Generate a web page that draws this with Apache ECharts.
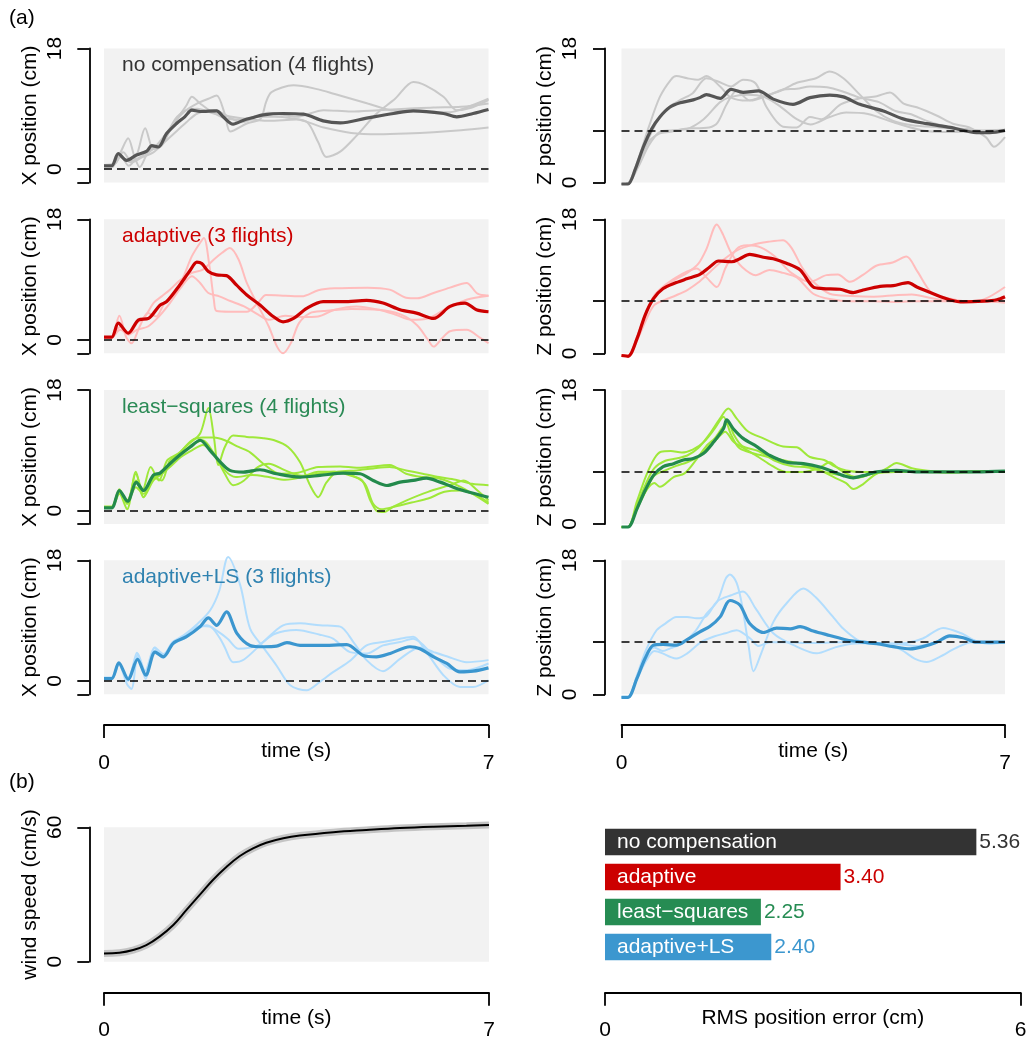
<!DOCTYPE html>
<html><head><meta charset="utf-8">
<script src="https://cdn.jsdelivr.net/npm/echarts@6/dist/echarts.min.js"></script>
<style>html,body{margin:0;padding:0;background:#fff}#c{width:1028px;height:1043px}</style>
</head><body><div id="c"></div>
<script>
// ---------- DATA ([time s, value]) ----------
// no compensation, X
const ncX_mean = [[0,0.5],[0.14,0.5],[0.26,2.3],[0.41,1.3],[0.59,2.1],[0.78,2.7],[0.87,3.5],[0.99,3.3],[1.14,5.3],[1.32,6.8],[1.47,7.8],[1.6,8.8],[1.75,8.6],[2.05,8.7],[2.17,7.8],[2.35,6.7],[2.54,7.3],[2.72,7.7],[2.9,8.1],[3.26,8.3],[3.63,8.2],[3.99,7.2],[4.3,6.9],[4.78,7.6],[5.27,8.3],[5.63,8.7],[6.18,8.3],[6.42,7.8],[6.72,8.3],[7,8.9]];
const ncX_f1 = [[0,0.4],[0.15,0.5],[0.3,2.5],[0.44,4.6],[0.55,2.0],[0.65,0.3],[0.8,2.5],[0.95,3.5],[1.1,5.0],[1.3,7.2],[1.5,9.5],[1.6,10.8],[1.75,9.8],[1.95,8.6],[2.2,7.6],[2.5,7.4],[2.8,7.8],[3.1,7.8],[3.4,7.6],[3.7,7.0],[3.9,4.0],[4.05,1.8],[4.3,2.6],[4.6,5.0],[4.95,8.2],[5.3,10.5],[5.63,13.0],[5.85,12.5],[6.18,10.8],[6.42,8.8],[6.7,9.2],[7,10.3]];
const ncX_f2 = [[0,0.2],[0.15,0.3],[0.3,2.0],[0.45,0.5],[0.6,2.2],[0.75,6.1],[0.9,3.0],[1.05,3.5],[1.25,6.5],[1.45,8.5],[1.7,9.8],[1.9,10.5],[2.05,11.0],[2.2,8.2],[2.3,5.6],[2.6,6.8],[2.85,7.5],[2.95,10.0],[3.05,11.5],[3.45,12.5],[3.9,11.9],[4.2,11.2],[4.8,9.8],[5.3,8.7],[5.8,8.6],[6.3,8.5],[6.6,9.2],[7,10.5]];
const ncX_f3 = [[0,0.5],[0.2,0.8],[0.35,2.5],[0.5,1.2],[0.7,2.0],[0.9,3.0],[1.1,4.5],[1.3,7.5],[1.5,8.8],[1.7,9.0],[2.0,8.3],[2.5,7.6],[3.0,7.2],[3.5,7.4],[4.0,6.2],[4.5,5.4],[5.0,5.2],[5.5,5.3],[6.0,5.5],[6.5,5.8],[7,6.2]];
const ncX_f4 = [[0,0.6],[0.2,0.9],[0.3,1.8],[0.5,1.0],[0.7,1.8],[0.9,2.5],[1.1,4.0],[1.3,5.5],[1.5,7.0],[1.7,8.3],[2.0,8.8],[2.5,7.0],[3.0,8.4],[3.5,7.8],[4.0,8.8],[4.5,8.6],[5.0,8.8],[5.5,9.0],[6.0,9.2],[6.5,9.3],[7,9.8]];
// no compensation, Z
const ncZ_mean = [[0,-0.2],[0.12,-0.2],[0.25,1.75],[0.4,4.8],[0.55,7.2],[0.7,8.8],[0.88,10.1],[1.07,10.7],[1.31,11.1],[1.43,11.4],[1.55,11.8],[1.8,11.3],[2.0,12.5],[2.22,12.1],[2.5,12.3],[2.77,11.2],[3.13,10.5],[3.44,11.4],[3.8,11.75],[4.05,11.5],[4.35,10.5],[4.78,9.6],[5.14,8.55],[5.57,7.9],[6.0,7.4],[6.48,6.7],[6.72,6.7],[7,7.0]];
const ncZ_f1 = [[0,-0.2],[0.12,-0.1],[0.3,3],[0.5,7.5],[0.7,11.5],[0.9,13.8],[1.0,14.3],[1.2,14.0],[1.4,13.8],[1.55,14.3],[1.8,12.9],[2.0,11.4],[2.3,11.0],[2.6,11.6],[2.9,12.3],[3.2,13.4],[3.55,14.0],[3.8,14.9],[4.05,14.0],[4.35,11.8],[4.65,9.6],[4.95,8.3],[5.3,7.7],[5.8,7.4],[6.5,7.0],[7,7.1]];
const ncZ_f2 = [[0,-0.2],[0.12,-0.1],[0.3,2.5],[0.5,6],[0.7,8.8],[0.9,10.3],[1.1,11.2],[1.3,12.0],[1.55,14.0],[1.75,13.6],[2.0,12.9],[2.22,13.8],[2.45,13.3],[2.65,10.1],[2.95,7.5],[3.2,7.4],[3.44,8.8],[3.65,8.5],[4.0,10.5],[4.35,11.3],[4.66,11.6],[4.9,12.1],[5.15,10.6],[5.39,10.1],[5.75,9.0],[6.05,7.9],[6.35,7.4],[6.65,6.1],[6.8,4.8],[7,6.1]];
const ncZ_f3 = [[0,-0.2],[0.12,-0.1],[0.3,2.5],[0.5,5.5],[0.7,6.6],[0.9,6.8],[1.13,7.2],[1.6,7.4],[1.75,8],[1.92,10.5],[2.1,12.3],[2.35,11],[2.65,11.6],[2.95,12.5],[3.2,12.6],[3.44,12.9],[3.75,12.8],[4.05,12.2],[4.35,11.4],[4.7,10.8],[5.0,9.6],[5.27,9.2],[5.6,8.2],[6.0,7.4],[6.4,7.1],[6.7,6.9],[7,7.0]];
const ncZ_f4 = [[0,-0.2],[0.12,-0.1],[0.3,2.0],[0.5,5.0],[0.7,6.8],[0.9,7.0],[1.2,7.2],[1.5,8.5],[1.8,10.8],[2.0,11.5],[2.3,11.8],[2.6,11.5],[2.9,10.2],[3.2,8.5],[3.45,7.8],[3.8,8.8],[4.1,9.4],[4.5,9.2],[5.0,8.0],[5.5,7.0],[6.0,6.8],[6.5,6.9],[7,7.0]];
// adaptive, X
const adX_mean = [[0,0.4],[0.14,0.4],[0.26,2.5],[0.44,1.0],[0.63,3.0],[0.81,3.2],[1.02,5.2],[1.14,5.7],[1.38,8.2],[1.57,10.4],[1.69,11.6],[1.78,11.4],[1.9,10.2],[2.05,9.7],[2.23,9.6],[2.41,8.2],[2.6,6.7],[2.84,5.2],[3.08,3.5],[3.26,2.7],[3.45,3.2],[3.69,4.7],[3.99,5.7],[4.36,5.7],[4.78,5.9],[5.08,5.5],[5.39,4.5],[5.69,4.0],[6.0,3.2],[6.3,5.0],[6.57,5.5],[6.78,4.5],[7,4.2]];
const adX_f1 = [[0,0.3],[0.14,0.4],[0.28,3.6],[0.4,0.5],[0.5,-0.5],[0.65,2.0],[0.8,4.0],[0.95,3.5],[1.1,5.5],[1.3,7.0],[1.45,9.5],[1.6,12.5],[1.75,14.5],[1.82,15.2],[1.92,11],[2.0,6],[2.05,4.3],[2.3,4.2],[2.6,4.2],[2.8,5.5],[2.95,6.7],[3.3,6.6],[3.6,6.5],[3.9,7.4],[4.2,7.7],[4.8,7.8],[5.2,7.5],[5.5,6.3],[5.7,6.2],[6.0,7.0],[6.3,7.8],[6.6,8.5],[6.8,6.9],[7,6.6]];
const adX_f2 = [[0,0.3],[0.14,0.3],[0.3,2.0],[0.45,0.8],[0.6,2.5],[0.75,3.5],[0.9,5.5],[1.05,6.5],[1.2,7.5],[1.4,9.0],[1.6,10],[1.8,10.5],[2.0,12],[2.15,13],[2.29,13.7],[2.45,12],[2.6,8.5],[2.8,5.2],[3.0,2.0],[3.15,-1.0],[3.26,-2.0],[3.4,-0.5],[3.55,2.5],[3.75,4.0],[4.0,4.3],[4.5,4.6],[5.0,4.5],[5.4,3.8],[5.7,2.2],[5.9,0.0],[6.0,-1.0],[6.15,0.2],[6.3,1.3],[6.6,1.5],[6.85,0.3],[7,-0.5]];
const adX_f3 = [[0,0.3],[0.14,0.4],[0.3,1.5],[0.45,0.8],[0.6,1.5],[0.8,2.0],[1.0,3.5],[1.2,5.5],[1.4,7.8],[1.6,9.5],[1.75,8.5],[1.9,7.0],[2.1,6.5],[2.3,5.8],[2.55,5.0],[2.8,3.8],[3.0,3.0],[3.3,3.6],[3.6,3.4],[3.9,3.5],[4.2,4.5],[4.6,5.0],[5.0,4.5],[5.3,3.8],[5.6,3.0],[5.9,3.2],[6.2,4.5],[6.6,6.0],[7,6.6]];
// adaptive, Z
const adZ_mean = [[0,-0.3],[0.12,-0.4],[0.28,1.9],[0.43,5.1],[0.58,7.3],[0.76,8.7],[1.0,9.5],[1.19,10],[1.43,10.6],[1.61,11.6],[1.77,12.4],[2.01,12.3],[2.16,12.7],[2.34,13.3],[2.59,12.9],[2.77,12.7],[3.01,12.1],[3.26,11.2],[3.5,8.9],[3.68,8.7],[3.99,8.6],[4.23,8.15],[4.41,8.5],[4.72,9.0],[4.96,9.1],[5.23,9.5],[5.39,8.9],[5.69,8.0],[5.99,7.2],[6.24,6.9],[6.6,7.0],[6.85,7.2],[7,7.6]];
const adZ_f1 = [[0,-0.3],[0.12,-0.3],[0.3,2.5],[0.45,5.5],[0.6,7.5],[0.8,9.0],[1.0,10.0],[1.2,10.8],[1.4,12],[1.55,14],[1.74,17.3],[1.85,16],[2.0,13.5],[2.2,11.6],[2.45,10.5],[2.7,11.2],[2.95,10.8],[3.2,10.2],[3.5,8.0],[3.8,7.3],[4.2,7.0],[4.6,7.0],[5.0,6.9],[5.4,7.0],[5.8,7.0],[6.2,7.0],[6.6,7.0],[7,6.8]];
const adZ_f2 = [[0,-0.3],[0.12,-0.3],[0.3,2.5],[0.45,5.5],[0.6,7.8],[0.8,9.2],[1.0,10.2],[1.2,11.0],[1.37,11.4],[1.55,10.2],[1.74,8.9],[1.9,11.5],[2.1,14.0],[2.3,14.5],[2.55,14.2],[2.8,13.0],[3.1,10.8],[3.44,9.6],[3.74,10.5],[3.95,10.6],[4.17,9.6],[4.4,10.5],[4.66,11.8],[4.95,12.2],[5.2,13.0],[5.4,11.0],[5.65,8.2],[5.9,7.5],[6.3,7.0],[6.6,7.2],[7,8.9]];
const adZ_f3 = [[0,-0.3],[0.12,-0.3],[0.3,2.0],[0.45,4.5],[0.6,6.5],[0.8,7.2],[1.0,7.8],[1.2,8.5],[1.4,9.5],[1.61,10.9],[1.85,12.5],[2.1,13.8],[2.4,14.6],[2.7,15.0],[2.95,15.2],[3.1,14.2],[3.3,11.5],[3.5,9.6],[3.8,8.0],[4.2,7.7],[4.6,7.6],[5.0,7.8],[5.3,7.9],[5.6,7.5],[6.0,7.0],[6.4,7.0],[6.8,6.9],[7,7.0]];
// least-squares, X
const lsX_mean = [[0,0.4],[0.14,0.4],[0.28,3.0],[0.43,1.4],[0.59,4.2],[0.72,3.0],[0.9,5.3],[1.02,5.6],[1.2,7.0],[1.38,8.3],[1.57,9.5],[1.75,10.5],[1.93,9.0],[2.11,7.3],[2.29,6.0],[2.54,5.75],[2.84,6.1],[3.14,5.5],[3.57,5.0],[3.93,5.25],[4.36,5.6],[4.66,5.5],[4.9,4.5],[5.15,3.75],[5.39,4.25],[5.63,4.5],[5.87,4.85],[6.12,4.25],[6.36,3.5],[6.6,2.85],[7,2.0]];
const lsX_f1 = [[0,0.6],[0.14,0.6],[0.28,3.2],[0.42,1.0],[0.58,5.5],[0.7,3.0],[0.85,6.5],[1.0,4.5],[1.15,7.5],[1.35,8.5],[1.55,10],[1.75,11.5],[1.9,15.3],[2.0,11],[2.08,6.8],[2.2,9.5],[2.35,11.2],[2.6,11.0],[2.9,10.8],[3.1,10.5],[3.35,9.5],[3.57,7.2],[3.75,3.8],[3.9,2.0],[4.05,4.2],[4.25,5.8],[4.6,6.0],[4.9,6.3],[5.2,6.5],[5.5,6.0],[5.8,5.5],[6.1,5.0],[6.4,4.6],[6.7,4.0],[7,3.8]];
const lsX_f2 = [[0,0.5],[0.14,0.5],[0.28,2.5],[0.42,0.2],[0.58,5.8],[0.72,2.0],[0.9,4.5],[1.05,5.5],[1.2,7.0],[1.4,8.8],[1.6,10.5],[1.8,10.9],[2.0,10.9],[2.2,10.5],[2.45,9.5],[2.66,8.7],[2.9,7.0],[3.2,5.5],[3.5,5.6],[3.9,6.5],[4.3,6.6],[4.6,6.4],[4.8,6.5],[5.2,6.8],[5.5,5.5],[5.8,5.0],[6.1,4.8],[6.5,3.5],[7,1.0]];
const lsX_f3 = [[0,0.5],[0.14,0.5],[0.28,3.0],[0.42,1.5],[0.58,4.5],[0.72,2.0],[0.9,5.0],[1.05,4.5],[1.2,7.5],[1.4,8.5],[1.6,9.8],[1.8,10.5],[2.0,8.5],[2.2,5.5],[2.35,3.8],[2.55,4.5],[2.8,6.5],[3.0,7.0],[3.3,6.0],[3.6,5.2],[3.9,5.5],[4.2,5.8],[4.5,5.2],[4.7,4.5],[4.85,1.5],[4.96,0.0],[5.1,-0.2],[5.25,0.5],[5.5,1.5],[5.9,2.8],[6.3,3.8],[6.55,4.5],[6.8,3.0],[7,1.5]];
const lsX_f4 = [[0,0.4],[0.14,0.4],[0.28,2.8],[0.42,1.2],[0.58,3.5],[0.72,2.5],[0.9,4.8],[1.05,5.5],[1.2,6.5],[1.4,8.0],[1.6,9.0],[1.8,9.8],[2.0,8.5],[2.2,6.0],[2.4,5.0],[2.7,5.3],[3.0,5.0],[3.3,4.6],[3.6,5.0],[3.9,5.8],[4.2,5.8],[4.5,5.3],[4.75,4.0],[4.9,1.0],[5.05,0.2],[5.3,0.6],[5.6,1.2],[5.9,1.8],[6.2,2.8],[6.5,3.0],[6.8,2.2],[7,1.2]];
// least-squares, Z
const lsZ_mean = [[0,-0.4],[0.12,-0.4],[0.28,2.0],[0.43,4.5],[0.58,6.5],[0.76,7.7],[0.95,8.1],[1.13,8.6],[1.31,8.8],[1.5,9.5],[1.68,11],[1.86,12.8],[1.92,14.0],[2.04,12.8],[2.22,11.5],[2.47,10.4],[2.71,9.2],[3.01,8.3],[3.32,8.1],[3.62,7.65],[3.87,7.0],[4.05,6.5],[4.23,6.2],[4.41,6.5],[4.66,7.0],[5.02,7.2],[5.39,7.0],[5.87,7.0],[6.48,7.0],[7,7.1]];
const lsZ_f1 = [[0,-0.4],[0.12,-0.4],[0.28,2.5],[0.45,5.5],[0.6,7.5],[0.8,8.5],[1.0,8.8],[1.2,9.2],[1.4,10.2],[1.6,12.0],[1.8,14.2],[1.95,15.5],[2.1,14.2],[2.3,12.5],[2.59,11.5],[2.95,10.4],[3.2,10.3],[3.44,9.0],[3.7,8.6],[3.9,7.7],[4.1,7.2],[4.4,7.0],[4.8,7.0],[5.2,7.1],[5.6,7.0],[6.0,7.0],[6.5,7.1],[7,7.0]];
const lsZ_f2 = [[0,-0.4],[0.12,-0.4],[0.28,2.0],[0.45,4.5],[0.6,6.5],[0.8,7.2],[1.0,7.8],[1.2,8.3],[1.4,9.0],[1.6,10.5],[1.75,11.5],[1.89,12.4],[2.05,11],[2.25,10.1],[2.5,9.0],[2.75,7.8],[3.0,7.0],[3.3,7.0],[3.6,7.5],[3.8,8.3],[3.95,7.5],[4.1,6.8],[4.3,6.2],[4.6,6.8],[5.0,7.0],[5.5,7.0],[6.0,6.9],[6.5,7.0],[7,7.0]];
const lsZ_f3 = [[0,-0.4],[0.12,-0.4],[0.28,3.0],[0.45,6.5],[0.6,8.8],[0.72,9.7],[0.9,9.8],[1.1,9.6],[1.3,10.0],[1.5,11],[1.7,12.8],[1.86,14.4],[2.0,12.0],[2.15,10.2],[2.4,9.5],[2.7,9.0],[3.0,8.5],[3.3,8.0],[3.6,7.3],[3.9,6.2],[4.1,5.5],[4.23,4.7],[4.4,5.3],[4.6,6.5],[4.85,7.5],[5.02,8.2],[5.3,7.5],[5.7,7.1],[6.2,7.0],[6.6,7.1],[7,7.0]];
const lsZ_f4 = [[0,-0.4],[0.12,-0.4],[0.28,2.2],[0.45,4.5],[0.6,5.5],[0.7,5.0],[0.95,6.3],[1.15,6.8],[1.35,8.5],[1.55,10.5],[1.7,11.5],[1.85,13.0],[1.95,13.5],[2.05,12],[2.2,10.5],[2.5,9.8],[2.8,8.5],[3.1,7.8],[3.4,7.6],[3.7,7.0],[3.95,6.6],[4.15,6.4],[4.35,6.3],[4.6,6.8],[5.0,7.0],[5.5,7.0],[6.0,7.0],[6.5,7.0],[7,7.1]];
// adaptive+LS, X
const alX_mean = [[0,0.35],[0.14,0.35],[0.27,2.7],[0.44,0.25],[0.61,3.2],[0.76,0.85],[0.93,4.3],[1.08,3.6],[1.26,5.6],[1.5,6.6],[1.75,8.1],[1.9,9.4],[2.05,8.3],[2.23,10.3],[2.42,7.1],[2.66,5.3],[2.9,5.1],[3.14,5.2],[3.33,5.7],[3.57,5.3],[3.93,5.3],[4.42,5.4],[4.72,3.8],[4.96,3.6],[5.21,4.1],[5.57,5.1],[5.75,4.8],[6.0,3.6],[6.24,2.6],[6.48,1.35],[6.72,1.45],[7,1.95]];
const alX_f1 = [[0,0.3],[0.14,0.3],[0.27,2.5],[0.42,-0.5],[0.5,-1.2],[0.62,4.0],[0.75,1.5],[0.92,5.0],[1.05,3.5],[1.25,5.8],[1.45,6.8],[1.7,8.5],[1.93,10.5],[2.1,13.5],[2.26,18.5],[2.48,14.3],[2.66,7.8],[2.9,5.0],[3.14,2.3],[3.39,-0.65],[3.69,-1.4],[3.93,-0.15],[4.17,1.3],[4.48,3.0],[4.78,5.3],[5.08,5.8],[5.39,6.3],[5.63,6.6],[5.87,4.3],[6.18,0.85],[6.48,-0.9],[6.72,-0.9],[7,0.1]];
const alX_f2 = [[0,0.3],[0.14,0.3],[0.27,2.6],[0.44,0.0],[0.6,4.2],[0.76,0.3],[0.93,5.0],[1.08,4.0],[1.26,5.5],[1.5,7.0],[1.75,8.2],[1.93,8.1],[2.1,6.5],[2.2,5.0],[2.35,2.8],[2.55,3.2],[2.9,5.8],[3.26,8.3],[3.57,8.6],[3.93,8.3],[4.3,8.1],[4.54,5.8],[4.78,3.1],[5.08,1.45],[5.39,3.3],[5.75,5.0],[6.0,4.3],[6.3,3.5],[6.6,2.8],[7,3.1]];
const alX_f3 = [[0,0.5],[0.14,0.5],[0.27,2.5],[0.44,0.5],[0.6,3.5],[0.76,1.0],[0.93,4.5],[1.08,3.5],[1.26,5.5],[1.5,6.5],[1.75,8.0],[1.87,8.3],[2.05,7.5],[2.25,6.3],[2.45,4.8],[2.8,5.3],[3.1,7.0],[3.5,7.6],[3.93,6.9],[4.17,6.3],[4.48,4.3],[4.78,4.1],[5.08,5.3],[5.39,5.8],[5.63,6.3],[6.0,3.8],[6.3,1.8],[6.6,1.6],[7,2.6]];
// adaptive+LS, Z
const alZ_mean = [[0,-0.4],[0.12,-0.4],[0.28,2.1],[0.43,4.8],[0.58,6.6],[0.76,6.7],[1.0,6.6],[1.19,7.3],[1.43,8.4],[1.61,9.1],[1.8,10.4],[1.98,12.6],[2.16,12.0],[2.34,9.5],[2.59,8.3],[2.83,8.9],[3.08,8.8],[3.26,9.1],[3.5,8.5],[3.8,7.9],[4.11,7.3],[4.41,7.0],[4.66,6.8],[4.96,6.4],[5.27,6.1],[5.5,6.4],[5.75,7.0],[5.99,7.85],[6.24,7.6],[6.48,7.0],[7,7.0]];
const alZ_f1 = [[0,-0.4],[0.12,-0.4],[0.28,2.2],[0.45,5.2],[0.6,6.3],[0.75,5.8],[0.9,6.2],[1.1,6.8],[1.35,8.5],[1.55,10.8],[1.75,12.5],[1.9,15.5],[1.98,16.1],[2.1,15.0],[2.2,12.0],[2.32,6.5],[2.41,3.1],[2.55,5.5],[2.77,9.7],[3.01,12.2],[3.32,14.2],[3.55,13.0],[3.85,10.5],[4.05,8.8],[4.4,7.0],[4.8,6.8],[5.2,6.9],[5.5,7.5],[5.87,8.9],[6.2,8.2],[6.55,7.0],[7,7.0]];
const alZ_f2 = [[0,-0.4],[0.12,-0.4],[0.28,2.5],[0.45,6.0],[0.64,8.6],[0.8,9.5],[1.0,10.4],[1.2,10.4],[1.37,10.2],[1.55,10.5],[1.75,12.5],[2.0,13.3],[2.22,13.8],[2.45,11.5],[2.77,8.2],[3.14,6.6],[3.56,5.5],[3.9,6.3],[4.2,6.8],[4.6,6.9],[5.0,6.8],[5.4,6.5],[5.75,7.0],[6.05,7.8],[6.4,7.3],[6.7,6.8],[7,7.0]];
const alZ_f3 = [[0,-0.4],[0.12,-0.4],[0.28,2.0],[0.45,4.5],[0.6,5.8],[0.75,5.5],[0.9,5.0],[1.0,4.8],[1.2,5.5],[1.45,7.0],[1.7,7.8],[1.9,8.2],[2.1,8.6],[2.35,7.5],[2.5,6.5],[2.71,7.0],[3.0,7.0],[3.3,6.9],[3.6,6.9],[4.0,7.0],[4.4,6.9],[4.8,6.7],[5.1,6.0],[5.35,4.8],[5.57,4.35],[5.8,5.0],[6.1,6.2],[6.4,7.0],[7,7.0]];
// wind speed (cm/s)
const wind = [[0,3.7],[0.28,4.0],[0.53,5.2],[0.77,7.4],[1.01,11.2],[1.26,16.4],[1.5,23.1],[1.74,29.8],[1.98,36.5],[2.23,42.4],[2.47,47.2],[2.71,50.6],[2.95,53.1],[3.26,55.1],[3.56,56.3],[4.17,57.8],[4.77,58.8],[5.38,59.7],[5.99,60.3],[6.59,60.7],[7,61.0]];
// RMS position error (cm)
const barCats = ['no compensation','adaptive','least\u2212squares','adaptive+LS'];
const barVals = [5.36, 3.40, 2.25, 2.40];
const barColors = ['#333333','#cc0000','#268c53','#3c97cf'];
const labelColors = ['#333333','#cc0000','#268c53','#3c97cf'];
// panel titles
const panelTitles = ['no compensation (4 flights)','adaptive (3 flights)','least\u2212squares (4 flights)','adaptive+LS (3 flights)'];
const titleColors = ['#333333','#cc0000','#2a8a55','#2f82b0'];
const xTicks = [-2, 0, 18], xLabels = [0, 18];
const zTicks = [0, 7, 18], zLabels = [0, 18];
const timeTicks = [0, 7];

// ---------- CHART ----------
const FONT = '"Liberation Sans", Arial, Helvetica, sans-serif';
const rowTops = [48.5, 219.3, 390, 560.3];
const panels = [
  {light:[ncX_f1,ncX_f2,ncX_f3,ncX_f4], mean:ncX_mean, lc:'#c9c9c9', mc:'#555555', kind:'X'},
  {light:[ncZ_f1,ncZ_f2,ncZ_f3,ncZ_f4], mean:ncZ_mean, lc:'#c9c9c9', mc:'#555555', kind:'Z'},
  {light:[adX_f1,adX_f2,adX_f3], mean:adX_mean, lc:'#ffbcbc', mc:'#cc0000', kind:'X'},
  {light:[adZ_f1,adZ_f2,adZ_f3], mean:adZ_mean, lc:'#ffbcbc', mc:'#cc0000', kind:'Z'},
  {light:[lsX_f1,lsX_f2,lsX_f3,lsX_f4], mean:lsX_mean, lc:'#9fe83a', mc:'#238a4c', kind:'X'},
  {light:[lsZ_f1,lsZ_f2,lsZ_f3,lsZ_f4], mean:lsZ_mean, lc:'#9fe83a', mc:'#238a4c', kind:'Z'},
  {light:[alX_f1,alX_f2,alX_f3], mean:alX_mean, lc:'#b2ddfd', mc:'#3b96cf', kind:'X'},
  {light:[alZ_f1,alZ_f2,alZ_f3], mean:alZ_mean, lc:'#b2ddfd', mc:'#3b96cf', kind:'Z'}
];
const axisLineStyle = {color:'#000', width:1.8};
const txt = {fontFamily:FONT, fontSize:21, color:'#000'};
const grid = [], xAxis = [], yAxis = [], series = [];
const titles = [
  {text:'(a)', left:9, top:8, padding:0, textStyle:Object.assign({}, txt, {fontWeight:'normal'})},
  {text:'(b)', left:9, top:772, padding:0, textStyle:Object.assign({}, txt, {fontWeight:'normal'})}
];
function mkGrid(g) { return Object.assign({outerBoundsMode:'none', containLabel:false, borderWidth:0}, g); }
panels.forEach((p, i) => {
  const row = Math.floor(i/2), col = i%2;
  grid.push(mkGrid({left: col ? 621.5 : 104, top: rowTops[row], width: col ? 383.5 : 384.5, height:134,
    show:true, backgroundColor:'#f2f2f2'}));
  const isBottom = row === 3;
  xAxis.push({gridIndex:i, type:'value', min:0, max:7, show:isBottom, offset:30.7,
    axisLine:{show:true, onZero:false, lineStyle:axisLineStyle},
    axisTick:{show:true, length:13, customValues:timeTicks, lineStyle:axisLineStyle},
    axisLabel:{customValues:timeTicks, margin:28, fontFamily:FONT, fontSize:21, color:'#000'},
    splitLine:{show:false},
    name:'time (s)', nameLocation:'middle', nameGap:16, nameMoveOverlap:false, nameTextStyle:txt});
  const X = p.kind === 'X';
  yAxis.push({gridIndex:i, type:'value', min: X ? -2 : 0, max:18, offset: col ? 16.5 : 14.7,
    axisLine:{show:true, onZero:false, lineStyle:axisLineStyle},
    axisTick:{show:true, length:12, customValues: X ? xTicks : zTicks, lineStyle:axisLineStyle},
    axisLabel:{customValues: X ? xLabels : zLabels, rotate:90, margin:24, fontFamily:FONT, fontSize:21, color:'#000'},
    splitLine:{show:false},
    name: X ? 'X position (cm)' : 'Z position (cm)', nameLocation:'middle', nameRotate:90, nameGap:49,
    nameMoveOverlap:false, nameTextStyle:txt});
  p.light.forEach((d, k) => {
    const s = {type:'line', xAxisIndex:i, yAxisIndex:i, data:d, showSymbol:false, symbol:'none',
      smooth:0.3, clip:false, silent:true, z:2, lineStyle:{color:p.lc, width:2}};
    if (k === 0) s.markLine = {silent:true, symbol:['none','none'], label:{show:false},
      lineStyle:{type:[8,5], color:'#000', width:1.6}, data:[{yAxis: X ? 0 : 7}], animation:false};
    series.push(s);
  });
  series.push({type:'line', xAxisIndex:i, yAxisIndex:i, data:p.mean, showSymbol:false, symbol:'none',
    smooth:0.3, clip:false, silent:true, z:3, lineStyle:{color:p.mc, width:3.2}});
  if (col === 0) titles.push({text: panelTitles[row], left:122, top: rowTops[row]+6.5, padding:0,
    textStyle:Object.assign({}, txt, {color:titleColors[row], fontWeight:'normal'})});
});
// wind panel (grid 8)
grid.push(mkGrid({left:104, top:827.3, width:385, height:134.4, show:true, backgroundColor:'#f2f2f2'}));
xAxis.push({gridIndex:8, type:'value', min:0, max:7, offset:31,
  axisLine:{show:true, onZero:false, lineStyle:axisLineStyle},
  axisTick:{show:true, length:13, customValues:timeTicks, lineStyle:axisLineStyle},
  axisLabel:{customValues:timeTicks, margin:27.5, fontFamily:FONT, fontSize:21, color:'#000'},
  splitLine:{show:false}, name:'time (s)', nameLocation:'middle', nameGap:15.5, nameMoveOverlap:false, nameTextStyle:txt});
yAxis.push({gridIndex:8, type:'value', min:0, max:60, offset:14.7,
  axisLine:{show:true, onZero:false, lineStyle:axisLineStyle},
  axisTick:{show:true, length:12, customValues:[0,60], lineStyle:axisLineStyle},
  axisLabel:{customValues:[0,60], rotate:90, margin:24, fontFamily:FONT, fontSize:21, color:'#000'},
  splitLine:{show:false}, name:'wind speed (cm/s)', nameLocation:'middle', nameRotate:90, nameGap:49,
  nameMoveOverlap:false, nameTextStyle:txt});
series.push({type:'line', xAxisIndex:8, yAxisIndex:8, data:wind, showSymbol:false, symbol:'none', smooth:0.4,
  clip:false, silent:true, z:2, lineStyle:{color:'#c4c4c4', width:7}});
series.push({type:'line', xAxisIndex:8, yAxisIndex:8, data:wind, showSymbol:false, symbol:'none', smooth:0.4,
  clip:false, silent:true, z:3, lineStyle:{color:'#000', width:2}});
// bar panel (grid 9)
grid.push(mkGrid({left:605, top:824.5, width:415.7, height:140, show:false}));
xAxis.push({gridIndex:9, type:'value', min:0, max:6, offset:28.2,
  axisLine:{show:true, onZero:false, lineStyle:axisLineStyle},
  axisTick:{show:true, length:13, customValues:[0,6], lineStyle:axisLineStyle},
  axisLabel:{customValues:[0,6], margin:27.5, fontFamily:FONT, fontSize:21, color:'#000'},
  splitLine:{show:false}, name:'RMS position error (cm)', nameLocation:'middle', nameGap:15.5, nameMoveOverlap:false, nameTextStyle:txt});
yAxis.push({gridIndex:9, type:'category', data:barCats, inverse:true, show:false});
series.push({type:'bar', xAxisIndex:9, yAxisIndex:9, barWidth:26.7, barGap:'-100%', silent:true, z:2,
  data: barVals.map((v, i) => ({value:v, itemStyle:{color:barColors[i]}})),
  label:{show:true, position:'insideLeft', distance:12, formatter:(p)=>p.name, color:'#fff', fontFamily:FONT, fontSize:21}});
series.push({type:'bar', xAxisIndex:9, yAxisIndex:9, barWidth:26.7, barGap:'-100%', silent:true, z:3,
  data: barVals.map((v, i) => ({value:v, itemStyle:{color:'rgba(0,0,0,0)'},
    label:{color:labelColors[i]}})),
  label:{show:true, position:'right', distance:3, formatter:(p)=>p.value.toFixed(2), fontFamily:FONT, fontSize:21}});

const chart = echarts.init(document.getElementById('c'), null, {renderer:'canvas'});
chart.setOption({animation:false, backgroundColor:'#fff', title:titles, grid, xAxis, yAxis, series});
</script></body></html>
